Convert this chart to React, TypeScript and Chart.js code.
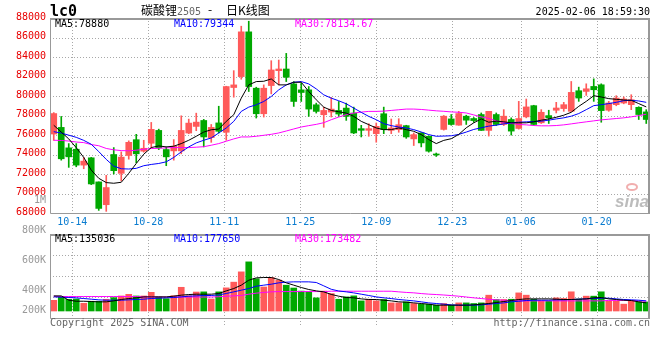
import React, { useEffect, useRef } from "react";
import { Chart, registerables } from "chart.js";
Chart.register(...registerables);

// ---------- data ----------
const dates = [
  "10-09","10-10","10-11","10-14","10-15","10-16","10-17","10-18","10-21","10-22",
  "10-23","10-24","10-25","10-28","10-29","10-30","10-31","11-01","11-04","11-05",
  "11-06","11-07","11-08","11-11","11-12","11-13","11-14","11-15","11-18","11-19",
  "11-20","11-21","11-22","11-25","11-26","11-27","11-28","11-29","12-02","12-03",
  "12-04","12-05","12-06","12-09","12-10","12-11","12-12","12-13","12-16","12-17",
  "12-18","12-19","12-20","12-23","12-24","12-25","12-26","12-27","12-30","12-31",
  "01-02","01-03","01-06","01-07","01-08","01-09","01-10","01-13","01-14","01-15",
  "01-16","01-17","01-20","01-21","01-22","01-23","01-24","01-27","02-05","02-06",
];
const openP = [
  76100,76780,74680,74540,72910,73660,71190,68850,74000,72070,
  73900,75520,74340,75150,76470,74510,74370,74370,76200,76880,
  77490,75730,77240,76280,80870,81990,86580,80800,78180,81070,
  82600,82770,81240,80630,80630,79100,78080,78350,78520,78760,
  78250,76650,76480,76140,78180,76480,76550,76960,75600,76210,
  75870,74050,76570,77650,77010,77930,77690,78100,76470,78100,
  77080,77590,76670,77860,79010,77250,77990,78540,78710,78430,
  80540,80470,80980,81150,78540,79110,79280,79110,78840,78370,
];
const highP = [
  78300,77900,75120,75120,73700,73700,71190,71860,74710,74270,
  75400,76070,75460,77290,76600,74780,75530,77970,77630,78240,
  77600,77080,78950,81000,82600,87160,87670,80900,81140,83620,
  83690,84370,81480,81300,80970,79270,78860,79850,79440,79270,
  78860,76990,77160,77230,78860,77640,77670,77000,76210,76250,
  75900,74150,78000,78100,78430,78030,77800,78260,78430,78260,
  78600,77760,79450,79690,79050,78600,78540,79350,79350,81490,
  80910,81250,81760,81250,79450,80030,79900,80130,78900,78600,
];
const lowP = [
  75450,73420,72680,72740,72540,70910,68270,68170,72000,71290,
  73520,73150,74240,74640,74500,72850,73420,74070,76130,76440,
  74780,75250,76200,75460,79880,81720,80460,77740,77840,80220,
  81140,81480,78930,79440,77910,78250,76790,77840,77910,77500,
  76140,75800,75870,75260,76140,76140,76280,75660,74920,74780,
  74240,73800,76500,77000,77000,77080,77300,76470,75890,76970,
  76970,75990,76600,77760,77000,77180,77180,78260,78430,78430,
  79450,80060,79450,77310,78430,79000,79200,78600,77590,77180,
];
const closeP = [
  78200,73560,73760,72910,73320,70980,68470,70610,72340,73730,
  75250,74070,74640,76580,74680,73760,74850,76470,77220,77320,
  75800,76780,76380,80970,81140,86580,80970,78180,80800,82670,
  82770,81920,79440,80360,78660,78420,78520,78660,78150,77910,
  76210,76480,76650,76890,76550,76720,77060,75800,76040,75190,
  74340,73950,77930,77080,78200,77520,77480,76470,78430,77080,
  77930,76400,77690,78880,77080,78330,77760,78770,79110,80370,
  79790,80740,80640,78500,79280,79790,79690,79620,78100,77590,
];
const ma5 = [
  77000,76300,75600,74700,73700,72400,71560,71120,71050,71150,
  72070,73080,74030,74710,74880,74780,74850,75120,75460,75870,
  76300,76540,76610,77400,78080,79780,81140,81480,81510,81750,
  81140,81140,81410,81410,80460,79610,78860,78520,78380,78250,
  77910,77400,77060,76720,76550,76550,76720,76550,76380,76040,
  75530,75120,75450,75620,76060,76740,77250,77650,77310,77420,
  77350,77250,77250,77250,77350,77520,77650,77820,78030,78330,
  78940,79450,80030,79900,79730,79660,79590,79560,79220,78880,
];
const ma10 = [
  76340,76200,75980,75760,75450,75050,74300,73500,72810,72540,
  72510,72580,72850,72980,73080,73250,73700,74270,74780,75190,
  75460,75700,76210,76720,77400,78420,78860,79100,79440,79950,
  80630,81140,81410,81480,81240,80730,80120,79780,79510,79200,
  78760,78320,77910,77570,77160,76960,76820,76720,76550,76310,
  76040,75870,75890,75920,76060,76300,76570,76740,76910,77010,
  77140,77250,77310,77350,77380,77420,77520,77650,77760,77930,
  78200,78600,79010,79110,79220,79350,79520,79560,79490,79350,
];
const ma30 = [
  75460,75440,75380,75280,75220,75020,74900,74620,74480,74400,
  74380,74440,74540,74610,74640,74680,74710,74710,74710,74750,
  74800,74950,75120,75360,75600,75800,75800,75870,75970,76070,
  76210,76410,76620,76820,76960,77090,77260,77570,77840,78080,
  78250,78350,78420,78420,78450,78520,78590,78660,78660,78620,
  78550,78480,78430,78370,78330,78260,78060,77860,77690,77450,
  77280,77180,77080,77040,76970,76940,76940,76970,77040,77140,
  77250,77350,77450,77550,77620,77690,77760,77860,77990,78130,
];
// volume in thousands of lots
const volume = [
  187,245,205,210,135,170,170,205,234,263,
  292,263,263,327,245,216,268,415,268,332,
  335,210,335,405,505,685,860,565,420,585,
  540,452,402,348,335,230,348,305,206,247,
  265,177,206,177,201,142,142,160,131,119,
  119,102,131,102,142,142,131,142,277,201,
  201,206,317,277,206,177,171,230,220,336,
  208,260,260,336,173,173,120,173,162,158,
];
const volMa5 = [
  264,264,189,171,171,166,160,160,177,201,
  218,230,247,247,247,247,259,277,288,294,
  294,294,306,352,393,452,539,580,586,586,
  551,493,452,411,376,352,335,290,259,236,
  230,212,201,201,189,177,160,154,142,131,
  119,102,102,102,102,102,107,119,131,148,
  166,183,201,212,212,212,212,207,201,201,
  207,212,230,236,212,201,189,183,160,142,
];
const volMa10 = [
  247,242,236,230,218,207,195,189,189,189,
  195,201,207,218,224,230,236,247,259,265,
  271,271,282,306,335,364,393,434,452,469,
  493,504,510,510,510,499,440,380,350,335,
  317,294,271,247,230,218,201,189,177,160,
  142,131,119,107,102,102,102,107,119,131,
  142,160,171,183,189,189,189,195,195,201,
  207,212,218,224,224,212,201,195,189,177,
];
const volMa30 = [
  259,253,253,253,253,253,253,253,253,253,
  253,253,245,245,245,245,245,245,245,245,
  245,245,250,259,265,271,294,312,325,335,
  340,340,340,340,340,340,340,346,346,346,
  346,346,346,346,346,346,335,325,318,305,
  295,288,280,270,259,245,230,218,205,195,
  189,183,177,177,177,177,177,177,177,177,
  177,177,177,177,185,185,185,185,177,171,
];

const priceTickValues = [88000,86000,84000,82000,80000,78000,76000,74000,72000,70000,68000];
const priceTickLabels = ["88000","86000","84000","82000","80000","78000","76000","74000","72000","70000","68000"];
const xTickLabels = ["10-14","10-28","11-11","11-25","12-09","12-23","01-06","01-20"];
const volTickLabels = ["800K","600K","400K","200K"];
const volTickY = [230, 260, 290, 310];

const titleCode = "lc0";
const titleName = "碳酸锂";
const titleContract = "2505";
const titleKind = "日K线图";
const stamp = "2025-02-06 18:59:30";
const priceLegend = ["MA5:78880", "MA10:79344", "MA30:78134.67"];
const volLegend = ["MA5:135036", "MA10:177650", "MA30:173482"];

// ---------- style ----------
const UP = "#ff5a5a";
const DOWN = "#00a800";
const MONO = '"DejaVu Sans Mono", "Liberation Mono", monospace';
const CJK = '"Noto Sans CJK SC", "Noto Sans", sans-serif';
const GRID = "#a8a8a8";
const BORDER = "#999999";

function gridX(xs: any, i: number) {
  return xs.getPixelForValue(i) + (i - 3) * 0.1 - 4;
}

function dotted(ctx: CanvasRenderingContext2D, x1: number, y1: number, x2: number, y2: number) {
  ctx.beginPath();
  ctx.moveTo(x1, y1);
  ctx.lineTo(x2, y2);
  ctx.stroke();
}

function drawFrame(ctx: CanvasRenderingContext2D, a: any) {
  ctx.save();
  ctx.setLineDash([]);
  ctx.strokeStyle = BORDER;
  ctx.lineWidth = 1;
  ctx.beginPath();
  ctx.moveTo(a.left + 0.5, a.top);
  ctx.lineTo(a.left + 0.5, a.bottom + 0.5);
  ctx.lineTo(a.right, a.bottom + 0.5);
  ctx.stroke();
  ctx.lineWidth = 2;
  ctx.beginPath();
  ctx.moveTo(a.left, a.top + 1);
  ctx.lineTo(a.right - 1, a.top + 1);
  ctx.lineTo(a.right - 1, a.bottom + 1);
  ctx.stroke();
  ctx.restore();
}

const pricePlugin = {
  id: "pricePanel",
  beforeDatasetsDraw(chart: any) {
    const { ctx, chartArea: a, scales } = chart;
    const xs = scales.x, ys = scales.y;
    ctx.save();
    // watermark
    ctx.fillStyle = "rgba(165,165,165,0.75)";
    ctx.font = 'italic bold 17px "Liberation Sans", Arial, sans-serif';
    ctx.textAlign = "right";
    ctx.textBaseline = "alphabetic";
    ctx.fillText("sina", a.right - 1, a.bottom - 6);
    ctx.strokeStyle = "rgba(235,140,140,0.7)";
    ctx.lineWidth = 2;
    ctx.beginPath();
    ctx.ellipse(a.right - 18, a.bottom - 26, 5, 3, 0, 0, Math.PI * 2);
    ctx.stroke();
    // grid
    ctx.strokeStyle = GRID;
    ctx.lineWidth = 1;
    ctx.setLineDash([1, 2]);
    priceTickValues.forEach((v) => {
      if (v === ys.max || v === ys.min) return;
      const py = Math.round(ys.getPixelForValue(v)) + 0.5;
      dotted(ctx, a.left, py, a.right, py);
    });
    xTickLabels.forEach((lbl) => {
      const i = dates.indexOf(lbl);
      const px = Math.round(gridX(xs, i)) + 0.5;
      dotted(ctx, px, a.top, px, a.bottom);
    });
    ctx.restore();
  },
  afterDraw(chart: any) {
    const { ctx, chartArea: a, scales } = chart;
    const xs = scales.x, ys = scales.y;
    drawFrame(ctx, a);
    ctx.save();
    // y labels
    ctx.font = `10px ${MONO}`;
    ctx.textAlign = "right";
    ctx.textBaseline = "middle";
    ctx.fillStyle = "#e80000";
    priceTickValues.forEach((v, k) => {
      ctx.fillText(priceTickLabels[k], 46, ys.getPixelForValue(v) - 1);
    });
    ctx.fillStyle = "#999999";
    ctx.fillText("1M", 46, 200);
    // x labels
    ctx.textAlign = "center";
    ctx.fillStyle = "#0a7cd0";
    xTickLabels.forEach((lbl) => {
      const i = dates.indexOf(lbl);
      ctx.fillText(lbl, gridX(xs, i), 222);
    });
    // title
    ctx.textBaseline = "alphabetic";
    ctx.textAlign = "left";
    ctx.fillStyle = "#000";
    ctx.font = `bold 15px ${MONO}`;
    ctx.fillText(titleCode, 50, 16);
    ctx.font = `12px ${CJK}`;
    ctx.fillText(titleName, 141, 15);
    ctx.fillStyle = "#666";
    ctx.font = `10px ${MONO}`;
    ctx.fillText(titleContract, 177, 15);
    ctx.fillStyle = "#000";
    ctx.font = `12px ${CJK}`;
    ctx.fillText("-", 208, 14);
    ctx.fillText(titleKind, 226, 15);
    ctx.font = `10px ${MONO}`;
    ctx.textAlign = "right";
    ctx.fillText(stamp, 650, 15);
    // legend
    ctx.textAlign = "left";
    ctx.fillStyle = "#000";
    ctx.fillText(priceLegend[0], 55, 27);
    ctx.fillStyle = "#0000ff";
    ctx.fillText(priceLegend[1], 174, 27);
    ctx.fillStyle = "#ff00ff";
    ctx.fillText(priceLegend[2], 295, 27);
    ctx.restore();
  },
};

const volPlugin = {
  id: "volPanel",
  beforeDatasetsDraw(chart: any) {
    const { ctx, chartArea: a, scales } = chart;
    const xs = scales.x;
    ctx.save();
    ctx.strokeStyle = GRID;
    ctx.lineWidth = 1;
    ctx.setLineDash([1, 2]);
    for (let k = 1; k < 4; k++) {
      const py = Math.round(a.top + ((a.bottom - a.top) * k) / 4) + 0.5;
      dotted(ctx, a.left, py, a.right, py);
    }
    xTickLabels.forEach((lbl) => {
      const i = dates.indexOf(lbl);
      const px = Math.round(gridX(xs, i)) + 0.5;
      dotted(ctx, px, a.top, px, a.bottom + 8);
    });
    ctx.restore();
  },
  afterDraw(chart: any) {
    const { ctx, chartArea: a } = chart;
    drawFrame(ctx, a);
    ctx.save();
    ctx.font = `10px ${MONO}`;
    ctx.textAlign = "right";
    ctx.textBaseline = "middle";
    ctx.fillStyle = "#999999";
    volTickLabels.forEach((t, k) => ctx.fillText(t, 46, volTickY[k]));
    ctx.textBaseline = "alphabetic";
    ctx.textAlign = "left";
    ctx.fillStyle = "#000";
    ctx.fillText(volLegend[0], 55, 242);
    ctx.fillStyle = "#0000ff";
    ctx.fillText(volLegend[1], 174, 242);
    ctx.fillStyle = "#ff00ff";
    ctx.fillText(volLegend[2], 295, 242);
    ctx.fillStyle = "#666";
    ctx.fillText("Copyright 2025 SINA.COM", 50, 326);
    ctx.textAlign = "right";
    ctx.fillText("http://finance.sina.com.cn", 650, 326);
    ctx.restore();
  },
};

function lineDs(label: string, data: number[], color: string) {
  return {
    type: "line" as const,
    label,
    data,
    borderColor: color,
    backgroundColor: color,
    borderWidth: 1,
    pointRadius: 0,
    tension: 0,
    fill: false,
    order: 0,
  };
}

export default function App() {
  const priceRef = useRef<HTMLCanvasElement>(null);
  const volRef = useRef<HTMLCanvasElement>(null);

  useEffect(() => {
    const colors = closeP.map((c, i) => (c >= openP[i] ? UP : DOWN));
    const priceChart = new Chart(priceRef.current as HTMLCanvasElement, {
      type: "bar",
      data: {
        labels: dates,
        datasets: [
          lineDs("MA5", ma5, "#000000"),
          lineDs("MA10", ma10, "#0000ff"),
          lineDs("MA30", ma30, "#ff00ff"),
          {
            type: "bar",
            label: "body",
            data: openP.map((o, i) => [o, closeP[i]]) as any,
            backgroundColor: colors,
            barThickness: 6,
            minBarLength: 1,
            grouped: false,
            borderWidth: 0,
            order: 1,
          } as any,
          {
            type: "bar",
            label: "wick",
            data: lowP.map((l, i) => [l, highP[i]]) as any,
            backgroundColor: colors,
            barThickness: 1,
            grouped: false,
            borderWidth: 0,
            order: 2,
          } as any,
        ],
      },
      options: {
        animation: false,
        responsive: false,
        devicePixelRatio: 1,
        events: [],
        layout: { padding: { left: 50, right: 10, top: 18, bottom: 147 } },
        plugins: { legend: { display: false }, tooltip: { enabled: false }, title: { display: false } },
        scales: {
          x: { display: false, offset: true },
          y: { display: false, min: 68000, max: 88000 },
        },
      } as any,
      plugins: [pricePlugin],
    });

    const volChart = new Chart(volRef.current as HTMLCanvasElement, {
      type: "bar",
      data: {
        labels: dates,
        datasets: [
          lineDs("MA5", volMa5, "#000000"),
          lineDs("MA10", volMa10, "#0000ff"),
          lineDs("MA30", volMa30, "#ff00ff"),
          {
            type: "bar",
            label: "vol",
            data: volume,
            backgroundColor: colors,
            barThickness: 6,
            grouped: false,
            borderWidth: 0,
            order: 1,
          } as any,
        ],
      },
      options: {
        animation: false,
        responsive: false,
        devicePixelRatio: 1,
        events: [],
        layout: { padding: { left: 50, right: 10, top: 234, bottom: 42 } },
        plugins: { legend: { display: false }, tooltip: { enabled: false }, title: { display: false } },
        scales: {
          x: { display: false, offset: true },
          y: { display: false, min: -122.5, max: 1347.5 },
        },
      } as any,
      plugins: [volPlugin],
    });

    return () => {
      priceChart.destroy();
      volChart.destroy();
    };
  }, []);

  return (
    <div style={{ position: "fixed", left: 0, top: 0, width: 660, height: 360, background: "#ffffff" }}>
      <canvas ref={priceRef} width={660} height={360} style={{ position: "absolute", left: 0, top: 0 }} />
      <canvas ref={volRef} width={660} height={360} style={{ position: "absolute", left: 0, top: 0 }} />
    </div>
  );
}
